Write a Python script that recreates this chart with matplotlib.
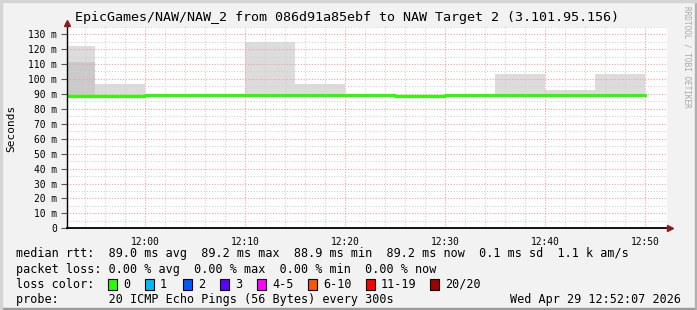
import numpy as np
import matplotlib
matplotlib.use("Agg")
import matplotlib.pyplot as plt
from matplotlib.patches import Rectangle

# minutes relative to 12:00, 5 minute steps (300s)
starts = [-10, -5, 0, 5, 10, 15, 20, 25, 30, 35, 40, 45]
median = [88.6, 88.6, 89.4, 89.4, 89.4, 89.4, 89.4, 88.8, 89.4, 89.4, 89.4, 89.4]
smoke_lo = [88.0, 88.0, 88.8, 88.8, 88.8, 88.8, 88.8, 88.2, 88.8, 88.8, 88.8, 88.8]
smoke_mid = [111.4, 88.0, 88.8, 88.8, 88.8, 88.8, 88.8, 88.2, 88.8, 88.8, 88.8, 88.8]
smoke_hi = [121.9, 96.5, 89.4, 89.4, 124.8, 96.5, 89.4, 88.8, 89.4, 103.1, 92.5, 103.1]

xticks = [0, 10, 20, 30, 40, 50]
xlabels = ["12:00", "12:10", "12:20", "12:30", "12:40", "12:50"]
yticks = [0, 10, 20, 30, 40, 50, 60, 70, 80, 90, 100, 110, 120, 130]
ylabels = ["0"] + ["%d m" % v for v in yticks[1:]]

loss_labels = ["0", "1", "2", "3", "4-5", "6-10", "11-19", "20/20"]
loss_colors = ["#26ff00", "#00b8ff", "#0059ff", "#5e00ff", "#ff00ff", "#ff5500", "#ff0000", "#a10000"]

title = "EpicGames/NAW/NAW_2 from 086d91a85ebf to NAW Target 2 (3.101.95.156)"
stats_rtt = "median rtt:  89.0 ms avg  89.2 ms max  88.9 ms min  89.2 ms now  0.1 ms sd  1.1 k am/s"
stats_loss = "packet loss: 0.00 % avg  0.00 % max  0.00 % min  0.00 % now"
probe = "probe:       20 ICMP Echo Pings (56 Bytes) every 300s"
stamp = "Wed Apr 29 12:52:07 2026"

mono = "DejaVu Sans Mono"
W, H = 697, 310
fig = plt.figure(figsize=(W / 100, H / 100), dpi=100, facecolor="#f2f2f2")

# image border
fig.patches.append(Rectangle((0, 0), 1, 2 / H, transform=fig.transFigure, color="#9a9a9a", zorder=0))
fig.patches.append(Rectangle((1 - 2 / W, 0), 2 / W, 1, transform=fig.transFigure, color="#b0b0b0", zorder=0))
fig.patches.append(Rectangle((0, 1 - 2 / H), 1, 2 / H, transform=fig.transFigure, color="#d4d4d4", zorder=0))
fig.patches.append(Rectangle((0, 0), 2 / W, 1, transform=fig.transFigure, color="#d4d4d4", zorder=0))

x0, x1 = 66.5, 666.5
yb, yt = 228.3, 26.7
ax = fig.add_axes([x0 / W, 1 - yb / H, (x1 - x0) / W, (yb - yt) / H])
ax.set_facecolor("white")
ax.set_xlim(-7.88, 52.12)
ax.set_ylim(0, 135)

# smoke
for s, lo, mid, hi in zip(starts, smoke_lo, smoke_mid, smoke_hi):
    ax.fill_between([s, s + 5], lo, hi, color="#dcdcdc", lw=0, zorder=1)
    if mid > lo:
        ax.fill_between([s, s + 5], lo, mid, color="#cacaca", lw=0, zorder=1.5)

# grid, drawn over the smoke
for v in np.arange(-6, 52, 2):
    major = v % 10 == 0
    ax.axvline(v, color="#f2a0a0" if major else "#d2d2d2", lw=0.8,
               ls=(0, (1, 1.5)), zorder=2)
for v in np.arange(5, 136, 5):
    major = v % 10 == 0
    ax.axhline(v, color="#f2a0a0" if major else "#d2d2d2", lw=0.8,
               ls=(0, (1, 1.5)), zorder=2)

# median line
xs = np.array(starts + [starts[-1] + 5])
ys = np.array(median + [median[-1]])
ax.step(xs, ys, where="post", color="#26ff00", lw=2.2, zorder=4)

for sp in ["top", "right", "left", "bottom"]:
    ax.spines[sp].set_visible(False)
ax.plot([0, 0], [0, 1.02], transform=ax.transAxes, color="black", lw=1, clip_on=False, zorder=5)
ax.plot([0, 1.006], [0, 0], transform=ax.transAxes, color="black", lw=1.3, clip_on=False, zorder=5)
ax.plot([0], [1.02], transform=ax.transAxes, marker="^", color="#8b1a1a", ms=4, clip_on=False, zorder=6)
ax.plot([1.006], [0], transform=ax.transAxes, marker=">", color="#8b1a1a", ms=4, clip_on=False, zorder=6)

ax.set_xticks(xticks)
ax.set_xticklabels(xlabels, fontfamily=mono, fontsize=6.9)
ax.set_yticks(yticks)
ax.set_yticklabels(ylabels, fontfamily=mono, fontsize=6.9)
ax.tick_params(axis="y", length=4, width=0.8, pad=3, color="#555555")
ax.tick_params(axis="x", length=0, pad=6)

fig.text(347 / W, 1 - 18 / H, title, fontfamily=mono, fontsize=9.6, ha="center", va="center")
fig.text(11 / W, 1 - 128 / H, "Seconds", fontfamily=mono, fontsize=8, rotation=90,
         ha="center", va="center")
fig.text(687 / W, 1 - 6 / H, "RRDTOOL / TOBI OETIKER", fontfamily=mono, fontsize=5.6,
         rotation=-90, ha="center", va="top", color="#a8a8a8")

fs = 8.5
fig.text(16 / W, 1 - 254 / H, stats_rtt, fontfamily=mono, fontsize=fs, va="center")
fig.text(16 / W, 1 - 269 / H, stats_loss, fontfamily=mono, fontsize=fs, va="center")
fig.text(16 / W, 1 - 284 / H, "loss color:", fontfamily=mono, fontsize=fs, va="center")
fig.text(16 / W, 1 - 300 / H, probe, fontfamily=mono, fontsize=fs, va="center")
fig.text(681 / W, 1 - 300 / H, stamp, fontfamily=mono, fontsize=fs, va="center", ha="right")

box_x = [108, 145, 183, 220, 257, 308, 366, 430]
for bx, lab, col in zip(box_x, loss_labels, loss_colors):
    fig.patches.append(Rectangle((bx / W, 1 - 289.5 / H), 9 / W, 11 / H, transform=fig.transFigure,
                                 facecolor=col, edgecolor="black", lw=0.8, zorder=3))
    fig.text((bx + 15) / W, 1 - 284 / H, lab, fontfamily=mono, fontsize=fs, va="center")

fig.savefig("out.png", dpi=100, facecolor=fig.get_facecolor())
